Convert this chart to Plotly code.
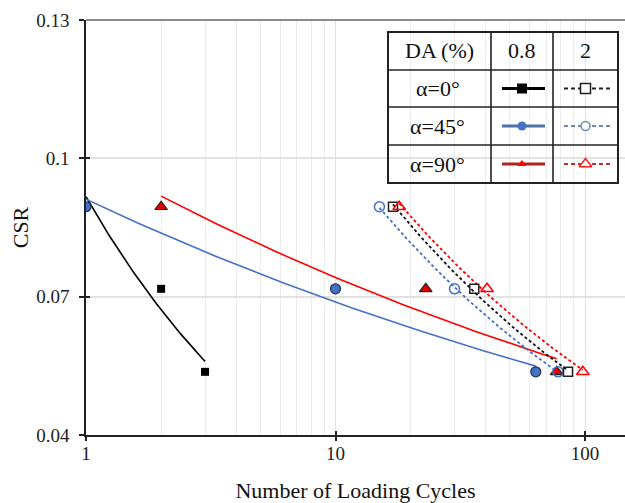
import numpy as np
import plotly.graph_objects as go

# ---------------- data ----------------
N_a0_08 = [1, 2, 3]
CSR_a0_08 = [0.0895, 0.0717, 0.0537]
N_a45_08 = [1, 10, 63.5]
CSR_a45_08 = [0.0895, 0.0717, 0.0537]
N_a90_08 = [2, 23, 77]
CSR_a90_08 = [0.0895, 0.0717, 0.0537]

N_a0_2 = [17, 36, 85.5]
CSR_a0_2 = [0.0895, 0.0717, 0.0537]
N_a45_2 = [15, 30, 78]
CSR_a45_2 = [0.0895, 0.0717, 0.0537]
N_a90_2 = [18, 40.5, 98]
CSR_a90_2 = [0.0895, 0.0717, 0.0537]

x_ticks = [1, 10, 100]
x_ticktext = ["1", "10", "100"]
y_ticks = [0.04, 0.07, 0.1, 0.13]
y_ticktext = ["0.04", "0.07", "0.1", "0.13"]

row_labels = ["α=0°", "α=45°", "α=90°"]
col_labels = ["DA (%)", "0.8", "2"]

# ---------------- style ----------------
FONT = "Liberation Serif, Times New Roman, serif"
BLACK = "#000000"
BLUE = "#4472C4"
RED = "#FF0000"

W, H = 625, 503
ML, MR, MT, MB = 86, 0, 20, 68
PW, PH = W - ML - MR, H - MT - MB


def px_x(p):
    return (p - ML) / PW


def px_y(p):
    return (H - MB - p) / PH


def power_fit(x, y):
    lx, ly = np.log(x), np.log(y)
    b, la = np.polyfit(lx, ly, 1)
    xs = np.geomspace(min(x), max(x), 60)
    return xs, np.exp(la) * xs ** b


fig = go.Figure()

DOT = "3px,2.5px"
series = [
    (N_a0_08, CSR_a0_08, BLACK, "solid", dict(symbol="square", color=BLACK, size=8)),
    (N_a45_08, CSR_a45_08, BLUE, "solid",
     dict(symbol="circle", color=BLUE, size=10, line=dict(color="#1f2f4f", width=1.2))),
    (N_a90_08, CSR_a90_08, RED, "solid",
     dict(symbol="triangle-up", color="#E00000", size=11, line=dict(color="#222", width=1.2))),
    (N_a45_2, CSR_a45_2, BLUE, DOT,
     dict(symbol="circle-open", color=BLUE, size=10, line=dict(width=1.5))),
    (N_a0_2, CSR_a0_2, "#111", DOT,
     dict(symbol="square-open", color="#222", size=9, line=dict(width=1.5))),
    (N_a90_2, CSR_a90_2, RED, DOT,
     dict(symbol="triangle-up-open", color=RED, size=11, line=dict(width=1.5))),
]

for x, y, c, dash, _ in series:
    xs, ys = power_fit(x, y)
    fig.add_trace(go.Scatter(x=xs, y=ys, mode="lines",
                             line=dict(color=c, width=1.6 if dash == "solid" else 1.8, dash=dash),
                             hoverinfo="skip", showlegend=False))
for x, y, c, dash, mk in series:
    fig.add_trace(go.Scatter(x=x, y=y, mode="markers", marker=mk, showlegend=False))

# crossing-tick helper axes (outside ticks)
fig.add_trace(go.Scatter(x=[1], y=[0.04], xaxis="x3", yaxis="y3", mode="markers",
                         marker=dict(opacity=0), hoverinfo="skip", showlegend=False))

# ---------------- legend table ----------------
T_L, T_R, T_T, T_B = 388, 618, 32, 183
COLS = [388, 491, 553, 618]
ROWS = [32, 70, 107, 145, 183]

shapes = []
shapes.append(dict(type="rect", xref="paper", yref="paper",
                   x0=px_x(T_L), x1=px_x(T_R), y0=px_y(T_B), y1=px_y(T_T),
                   fillcolor="white", line=dict(width=0), layer="between"))
shapes.append(dict(type="rect", xref="paper", yref="paper",
                   x0=px_x(T_L), x1=px_x(T_R), y0=px_y(T_B), y1=px_y(T_T),
                   line=dict(color="#222", width=2), layer="above"))
for cx in COLS[1:-1]:
    shapes.append(dict(type="line", xref="paper", yref="paper",
                       x0=px_x(cx), x1=px_x(cx), y0=px_y(T_B), y1=px_y(T_T),
                       line=dict(color="#222", width=1.6), layer="above"))
for ry in ROWS[1:-1]:
    shapes.append(dict(type="line", xref="paper", yref="paper",
                       x0=px_x(T_L), x1=px_x(T_R), y0=px_y(ry), y1=px_y(ry),
                       line=dict(color="#222", width=1.6), layer="above"))
# top border line of plot
shapes.append(dict(type="line", xref="paper", yref="paper", x0=0, x1=1, y0=1, y1=1,
                   line=dict(color="#666", width=1.5), layer="above"))

annotations = []
for i, t in enumerate(col_labels):
    annotations.append(dict(x=px_x((COLS[i] + COLS[i + 1]) / 2), y=px_y((ROWS[0] + ROWS[1]) / 2),
                            xref="paper", yref="paper", text=t, showarrow=False,
                            xanchor="center", yanchor="middle",
                            font=dict(family=FONT, size=22, color="#111")))
for j, t in enumerate(row_labels):
    annotations.append(dict(x=px_x((COLS[0] + COLS[1]) / 2 - 2), y=px_y((ROWS[j + 1] + ROWS[j + 2]) / 2),
                            xref="paper", yref="paper", text=t, showarrow=False,
                            xanchor="center", yanchor="middle",
                            font=dict(family=FONT, size=22, color="#111")))

LDASH = "4px,3px"
leg_styles = [
    [("#000", "solid", 3, dict(symbol="square", color="#000", size=10)),
     ("#222", LDASH, 2, dict(symbol="square", color="white", size=10,
                             line=dict(color="#222", width=1.5)))],
    [("#4F73A8", "solid", 3, dict(symbol="circle", color="#4472C4", size=9)),
     ("#6C8CB0", LDASH, 2, dict(symbol="circle", color="white", size=9,
                                line=dict(color="#6C8CB0", width=1.5)))],
    [("#B22222", "solid", 3, dict(symbol="triangle-up", color="#FF0000", size=8)),
     ("#C03030", LDASH, 2, dict(symbol="triangle-up", color="white", size=11,
                                line=dict(color="#FF2020", width=1.5)))],
]
for j, row in enumerate(leg_styles):
    cy = px_y((ROWS[j + 1] + ROWS[j + 2]) / 2)
    for k, (lc, ld, lw, mk) in enumerate(row):
        cx0, cx1 = COLS[k + 1], COLS[k + 2]
        xs = [px_x(cx0 + 11), px_x((cx0 + cx1) / 2), px_x(cx1 - 8)]
        fig.add_trace(go.Scatter(x=xs, y=[cy] * 3, xaxis="x2", yaxis="y2",
                                 mode="lines", line=dict(color=lc, width=lw, dash=ld),
                                 hoverinfo="skip", showlegend=False))
        fig.add_trace(go.Scatter(x=[xs[1]], y=[cy], xaxis="x2", yaxis="y2",
                                 mode="markers", marker=mk,
                                 hoverinfo="skip", showlegend=False))

axis_font = dict(family=FONT, size=19, color="#222")
title_font = dict(family=FONT, size=22, color="#111")
xr = [0, PW / 249.5]

fig.update_layout(
    width=W, height=H,
    margin=dict(l=ML, r=MR, t=MT, b=MB, autoexpand=False),
    paper_bgcolor="white", plot_bgcolor="white",
    showlegend=False,
    shapes=shapes, annotations=annotations,
    xaxis=dict(type="log", range=xr, tickvals=x_ticks, ticktext=x_ticktext,
               ticks="inside", ticklen=4, tickwidth=1.5, tickcolor="#222",
               showline=True, linecolor="#222", linewidth=1.5,
               showgrid=True, gridcolor="#e2e2e2", gridwidth=1,
               minor=dict(showgrid=True, gridcolor="#ececec", gridwidth=1,
                          tickvals=[2, 3, 4, 5, 6, 7, 8, 9, 20, 30, 40, 50, 60, 70, 80, 90, 200]),
               tickfont=axis_font, zeroline=False, ticklabelstandoff=0, automargin=False,
               title=dict(text="Number of Loading Cycles", font=title_font, standoff=24)),
    yaxis=dict(range=[0.04, 0.13], tickvals=y_ticks, ticktext=y_ticktext,
               ticks="outside", ticklen=5, tickwidth=1.5, tickcolor="#222",
               showline=True, linecolor="#222", linewidth=1.5,
               showgrid=True, gridcolor="#e2e2e2", gridwidth=1.5,
               tickfont=axis_font, zeroline=False, ticklabelstandoff=6, automargin=False,
               title=dict(text="CSR", font=title_font, standoff=2)),
    xaxis2=dict(overlaying="x", range=[0, 1], visible=False, anchor="y2"),
    yaxis2=dict(overlaying="y", range=[0, 1], visible=False, anchor="x2"),
    xaxis3=dict(overlaying="x", type="log", range=xr, tickvals=x_ticks, ticks="outside",
                ticklen=5, tickwidth=1.5, tickcolor="#222", showticklabels=False,
                showgrid=False, zeroline=False, showline=False, anchor="y3"),
    yaxis3=dict(overlaying="y", range=[0.04, 0.13], tickvals=y_ticks, ticks="inside",
                ticklen=4, tickwidth=1.5, tickcolor="#222", showticklabels=False,
                showgrid=False, zeroline=False, showline=False, anchor="x3"),
)

fig.write_html("out.html")
